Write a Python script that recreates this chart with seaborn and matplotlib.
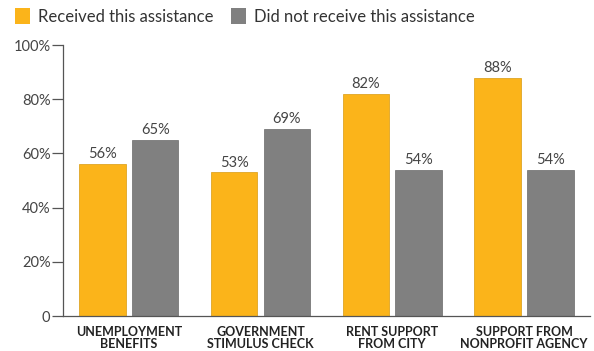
import matplotlib
matplotlib.use("Agg")
import matplotlib.pyplot as plt
import seaborn as sns
import pandas as pd

categories = ["UNEMPLOYMENT\nBENEFITS", "GOVERNMENT\nSTIMULUS CHECK",
              "RENT SUPPORT\nFROM CITY", "SUPPORT FROM\nNONPROFIT AGENCY"]
received = [56, 53, 82, 88]
not_received = [65, 69, 54, 54]
series = ["Received this assistance", "Did not receive this assistance"]
colors = ["#FBB41A", "#808080"]
ytick_values = [0, 20, 40, 60, 80, 100]
ytick_labels = ["0", "20%", "40%", "60%", "80%", "100%"]

df = pd.DataFrame({
    "category": categories * 2,
    "group": [series[0]] * len(categories) + [series[1]] * len(categories),
    "value": received + not_received,
})

sns.set_theme(style="white")
plt.rcParams["font.family"] = ["Lato", "DejaVu Sans"]

fig = plt.figure(figsize=(5.94, 3.51), dpi=100)
ax = fig.add_axes([0.106, 0.0997, 0.887, 0.772])

sns.barplot(data=df, x="category", y="value", hue="group", hue_order=series,
            palette=colors, saturation=1, width=0.8, gap=0.12, ax=ax, legend=False,
            edgecolor="#D99A10", linewidth=0.5)
for patch in ax.patches[len(categories):]:
    patch.set_edgecolor("#6A6A6A")

for container in ax.containers:
    ax.bar_label(container, fmt="%g%%", padding=2, fontsize=10.5, color="#444444")

ax.set_xlim(-0.5, 3.5)
ax.set_ylim(0, 100)
ax.set_yticks(ytick_values)
ax.set_yticklabels(ytick_labels, fontsize=10.5, color="#444444")
ax.tick_params(axis="y", left=True, length=8, width=0.9, color="#555555", pad=1)
ax.tick_params(axis="x", bottom=False, pad=1.5)
for lbl in ax.get_xticklabels():
    lbl.set_fontsize(9)
    lbl.set_fontweight("bold")
    lbl.set_color("#222222")
    lbl.set_linespacing(1.0)
ax.set_xlabel("")
ax.set_ylabel("")
for side in ["top", "right"]:
    ax.spines[side].set_visible(False)
for side in ["left", "bottom"]:
    ax.spines[side].set_color("#555555")
    ax.spines[side].set_linewidth(0.9)

handles = [plt.Rectangle((0, 0), 1, 1, facecolor=c, edgecolor="none") for c in colors]
fig.legend(handles, series, loc="upper left", bbox_to_anchor=(0.0, 1.02), ncol=2,
           frameon=False, fontsize=12, handlelength=0.9, handleheight=1.1,
           handletextpad=0.5, columnspacing=1.0, labelcolor="#333333")

fig.savefig("out.png", dpi=100)
